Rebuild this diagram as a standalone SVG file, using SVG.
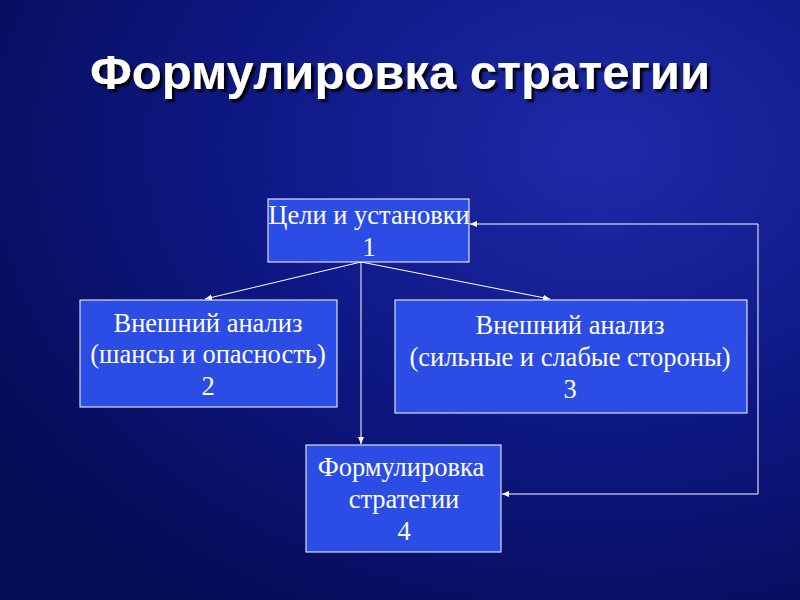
<svg xmlns="http://www.w3.org/2000/svg" width="800" height="600" viewBox="0 0 800 600">
<defs>
<radialGradient id="bg" cx="0.75" cy="0.25" r="0.9">
<stop offset="0" stop-color="#1e2aa8"/>
<stop offset="0.5" stop-color="#0e1884"/>
<stop offset="1" stop-color="#060b55"/>
</radialGradient>
<marker id="ah" markerWidth="8" markerHeight="8" refX="7" refY="4" orient="auto" markerUnits="userSpaceOnUse">
<path d="M0,1 L7,4 L0,7 z" fill="#fff"/>
</marker>
<filter id="sh"><feDropShadow dx="3" dy="3" stdDeviation="1" flood-color="#000" flood-opacity="0.9"/></filter>
</defs>
<style>
.box{fill:#2c4ce6;stroke:#fff;stroke-width:1}
.t{font-family:"Liberation Serif",serif;font-size:26.5px;fill:#fff;text-anchor:middle}
.c{stroke:#fff;stroke-width:1;fill:none}
</style>
<rect width="800" height="600" fill="url(#bg)"/>
<text x="400" y="89" font-family="Liberation Sans,Arial,sans-serif" font-weight="bold" font-size="49" fill="#fff" text-anchor="middle" filter="url(#sh)">Формулировка стратегии</text>
<g id="connectors">
<line class="c" x1="361" y1="262" x2="205" y2="299" marker-end="url(#ah)"/>
<line class="c" x1="361" y1="262" x2="550" y2="299" marker-end="url(#ah)"/>
<line class="c" x1="361" y1="262" x2="361" y2="444" marker-end="url(#ah)"/>
<polyline class="c" points="758,494 758,224 470,224" marker-end="url(#ah)"/>
<line class="c" x1="758" y1="494" x2="502" y2="494" marker-end="url(#ah)"/>
</g>
<g id="n1"><rect class="box" x="268" y="199" width="201" height="63"/>
<text class="t" x="369" y="224">Цели и установки</text><text class="t" x="369" y="256">1</text></g>
<g id="n2"><rect class="box" x="80" y="300" width="257" height="107"/>
<text class="t" x="208" y="332">Внешний анализ</text><text class="t" x="208" y="363">(шансы и опасность)</text><text class="t" x="208" y="395">2</text></g>
<g id="n3"><rect class="box" x="395" y="300" width="352" height="113"/>
<text class="t" x="570" y="334">Внешний анализ</text><text class="t" x="570" y="366">(сильные и слабые стороны)</text><text class="t" x="570" y="398">3</text></g>
<g id="n4"><rect class="box" x="306" y="445" width="195" height="107"/>
<text class="t" x="401" y="476">Формулировка</text><text class="t" x="404" y="508">стратегии</text><text class="t" x="404" y="540">4</text></g>
</svg>
